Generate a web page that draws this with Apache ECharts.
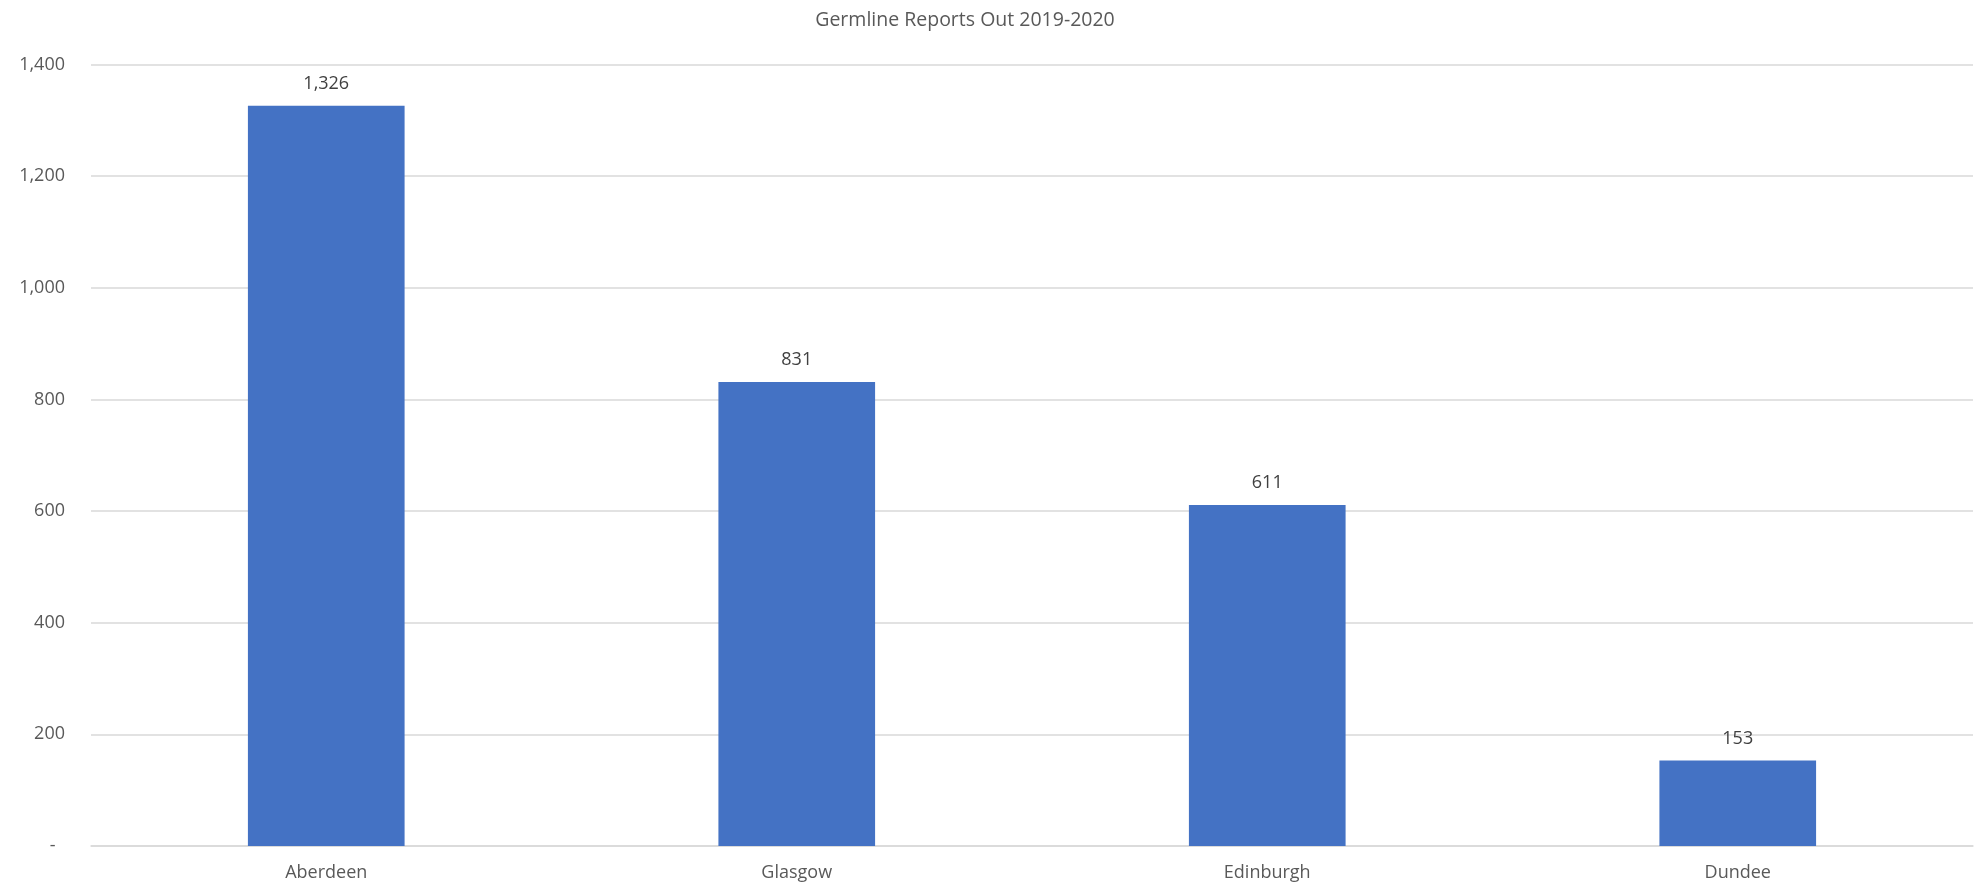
<!DOCTYPE html>
<html>
<head>
<meta charset="utf-8">
<script src="https://cdn.jsdelivr.net/npm/echarts@6/dist/echarts.min.js"></script>
<style>
  html, body { margin: 0; padding: 0; background: #ffffff; }
  #chart { width: 1985px; height: 885px; }
</style>
</head>
<body>
<div id="chart"></div>
<script>
// Germline reports issued per centre, 2019-2020
const chartTitle = 'Germline Reports Out 2019-2020';
const centres = ['Aberdeen', 'Glasgow', 'Edinburgh', 'Dundee'];
const reportsOut = [1326, 831, 611, 153];
const axisMax = 1400;
const axisStep = 200;

const fontFamily = '"Open Sans", "Liberation Sans", sans-serif';
// accounting-style numbers: zero shows as a padded dash
const fmt = v => v === 0 ? '-  ' : v.toLocaleString('en-US');

const chart = echarts.init(document.getElementById('chart'));
chart.setOption({
  animation: false,
  backgroundColor: '#ffffff',
  title: {
    text: chartTitle,
    left: 960,
    textAlign: 'center',
    top: 5,
    textStyle: { color: '#595959', fontSize: 19.5, fontWeight: 'normal', fontFamily }
  },
  grid: { left: 91, right: 12, top: 64.5, bottom: 39, containLabel: false },
  xAxis: {
    type: 'category',
    data: centres,
    axisLine: { show: true, lineStyle: { color: '#d9d9d9', width: 1.5 } },
    axisTick: { show: false },
    axisLabel: { color: '#595959', fontSize: 18, fontFamily, margin: 18 }
  },
  yAxis: {
    type: 'value',
    min: 0,
    max: axisMax,
    interval: axisStep,
    axisLine: { show: false },
    axisTick: { show: false },
    splitLine: { lineStyle: { color: '#d9d9d9', width: 1.5 } },
    axisLabel: { color: '#595959', fontSize: 18, fontFamily, margin: 26, formatter: fmt }
  },
  series: [{
    type: 'bar',
    data: reportsOut,
    barWidth: '33.3%',
    itemStyle: { color: '#4472c4' },
    label: {
      show: true,
      position: 'top',
      distance: 13,
      color: '#404040',
      fontSize: 18,
      fontFamily,
      formatter: p => fmt(p.value)
    }
  }]
});
</script>
</body>
</html>
